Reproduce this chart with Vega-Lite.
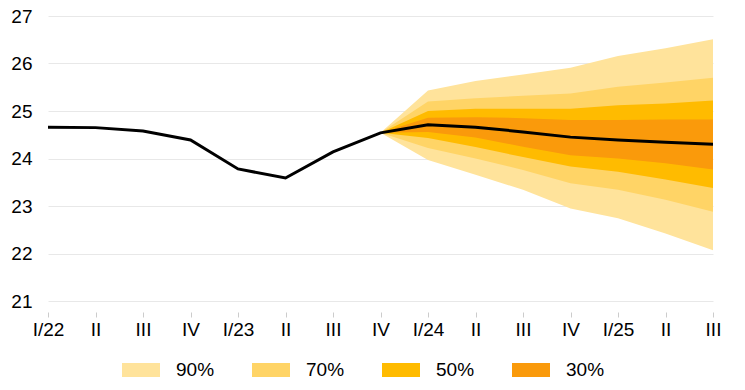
{
  "$schema": "https://vega.github.io/schema/vega-lite/v6.json",
  "autosize": {"type": "none"},
  "width": 665,
  "height": 285,
  "padding": {"left": 48, "top": 16, "right": 32, "bottom": 89},
  "background": "white",
  "config": {
    "view": {"stroke": null},
    "font": "Liberation Sans",
    "axis": {"labelFont": "Liberation Sans", "labelFontSize": 19, "labelColor": "#000000"},
    "legend": {"labelFont": "Liberation Sans", "labelFontSize": 19, "labelColor": "#000000"}
  },
  "data": {
    "values": [
      {"q": "I/22", "med": 24.66},
      {"q": "II/22", "med": 24.65},
      {"q": "III/22", "med": 24.58},
      {"q": "IV/22", "med": 24.39},
      {"q": "I/23", "med": 23.78},
      {"q": "II/23", "med": 23.59},
      {"q": "III/23", "med": 24.14},
      {"q": "IV/23", "med": 24.54, "lo90": 24.54, "hi90": 24.54, "lo70": 24.54, "hi70": 24.54, "lo50": 24.54, "hi50": 24.54, "lo30": 24.54, "hi30": 24.54},
      {"q": "I/24", "med": 24.71, "lo90": 23.97, "hi90": 25.43, "lo70": 24.22, "hi70": 25.2, "lo50": 24.43, "hi50": 25.0, "lo30": 24.56, "hi30": 24.86},
      {"q": "II/24", "med": 24.66, "lo90": 23.66, "hi90": 25.63, "lo70": 24.0, "hi70": 25.27, "lo50": 24.24, "hi50": 25.05, "lo30": 24.44, "hi30": 24.87},
      {"q": "III/24", "med": 24.56, "lo90": 23.34, "hi90": 25.77, "lo70": 23.76, "hi70": 25.32, "lo50": 24.03, "hi50": 25.05, "lo30": 24.25, "hi30": 24.85},
      {"q": "IV/24", "med": 24.45, "lo90": 22.95, "hi90": 25.91, "lo70": 23.48, "hi70": 25.37, "lo50": 23.83, "hi50": 25.05, "lo30": 24.07, "hi30": 24.81},
      {"q": "I/25", "med": 24.39, "lo90": 22.74, "hi90": 26.16, "lo70": 23.34, "hi70": 25.51, "lo50": 23.72, "hi50": 25.12, "lo30": 24.0, "hi30": 24.81},
      {"q": "II/25", "med": 24.34, "lo90": 22.42, "hi90": 26.32, "lo70": 23.13, "hi70": 25.6, "lo50": 23.56, "hi50": 25.16, "lo30": 23.9, "hi30": 24.82},
      {"q": "III/25", "med": 24.3, "lo90": 22.07, "hi90": 26.51, "lo70": 22.88, "hi70": 25.7, "lo50": 23.38, "hi50": 25.22, "lo30": 23.77, "hi30": 24.82}
    ]
  },
  "encoding": {
    "x": {
      "field": "q",
      "type": "ordinal",
      "sort": null,
      "scale": {"type": "point", "padding": 0},
      "axis": {
        "title": null,
        "domain": false,
        "grid": false,
        "ticks": true,
        "tickColor": "#cccccc",
        "tickSize": 5,
        "offset": 11,
        "labelPadding": 3,
        "labelAngle": 0,
        "labelExpr": "indexof(datum.label, 'I/') == 0 ? datum.label : split(datum.label, '/')[0]"
      }
    }
  },
  "layer": [
    {
      "mark": {"type": "area", "opacity": 1},
      "encoding": {
        "y": {"field": "lo90", "type": "quantitative", "scale": {"domain": [21, 27], "nice": false, "zero": false},
          "axis": {"title": null, "domain": false, "ticks": false, "grid": true, "gridColor": "#e8e8e8", "gridWidth": 1, "values": [21, 22, 23, 24, 25, 26, 27], "labelPadding": 16}},
        "y2": {"field": "hi90"},
        "color": {"datum": "90%", "type": "nominal",
          "scale": {"domain": ["90%", "70%", "50%", "30%"], "range": ["#FFE39B", "#FFD466", "#FFBB00", "#FA9A0B"]},
          "legend": {
            "title": null,
            "orient": "none",
            "direction": "horizontal",
            "columns": 4,
            "legendX": 74,
            "legendY": 335,
            "symbolType": "M-1,-0.37H1V0.37H-1Z",
            "symbolSize": 1444,
            "symbolStrokeWidth": 0,
            "symbolOpacity": 1,
            "labelOffset": 16,
            "columnPadding": 37
          }
        }
      }
    },
    {
      "mark": {"type": "area", "opacity": 1},
      "encoding": {
        "y": {"field": "lo70", "type": "quantitative"},
        "y2": {"field": "hi70"},
        "color": {"datum": "70%", "type": "nominal"}
      }
    },
    {
      "mark": {"type": "area", "opacity": 1},
      "encoding": {
        "y": {"field": "lo50", "type": "quantitative"},
        "y2": {"field": "hi50"},
        "color": {"datum": "50%", "type": "nominal"}
      }
    },
    {
      "mark": {"type": "area", "opacity": 1},
      "encoding": {
        "y": {"field": "lo30", "type": "quantitative"},
        "y2": {"field": "hi30"},
        "color": {"datum": "30%", "type": "nominal"}
      }
    },
    {
      "mark": {"type": "line", "color": "#000000", "strokeWidth": 3},
      "encoding": {
        "y": {"field": "med", "type": "quantitative"}
      }
    }
  ]
}
